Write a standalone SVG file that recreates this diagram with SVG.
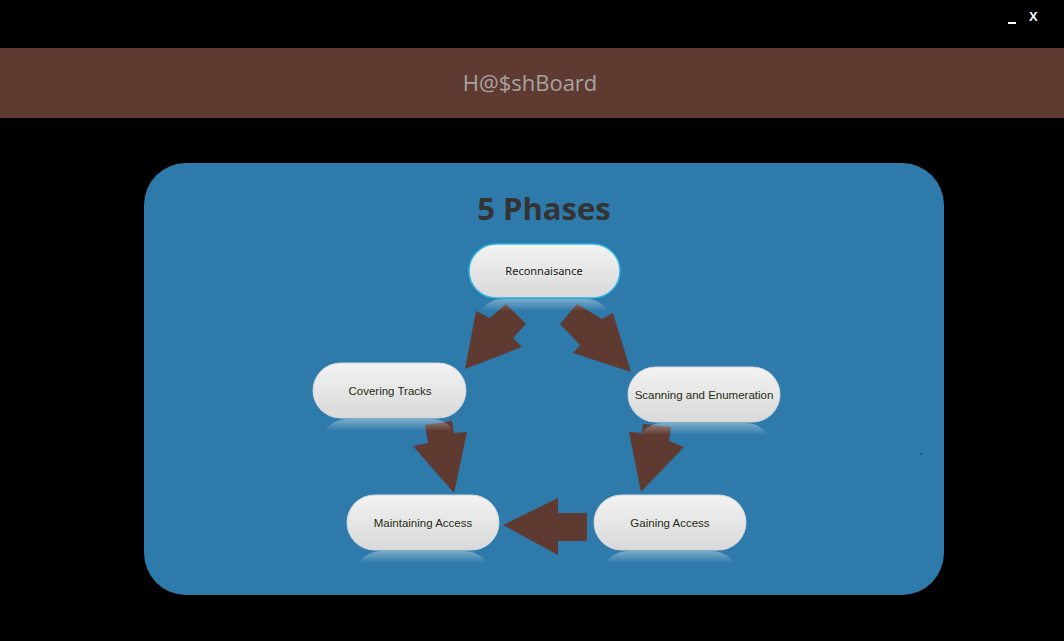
<svg xmlns="http://www.w3.org/2000/svg" width="1064" height="641" viewBox="0 0 1064 641">
<defs>
<linearGradient id="pillFill" x1="0" y1="0" x2="0" y2="1">
<stop offset="0" stop-color="#f3f3f3"/>
<stop offset="1" stop-color="#d9d9d9"/>
</linearGradient>
<linearGradient id="reflFill" x1="0" y1="0" x2="0" y2="1">
<stop offset="0" stop-color="#ffffff" stop-opacity="0.38"/>
<stop offset="0.22" stop-color="#ffffff" stop-opacity="0"/>
</linearGradient>
<style>
.pill{fill:url(#pillFill);stroke:#cfd6dc;stroke-width:1}
.pill.sel{stroke:#2ab6e4;stroke-width:1.5}
.refl{fill:url(#reflFill)}
.lbl{font-family:"Liberation Sans",Arial,sans-serif;font-size:11.5px;fill:#1f2d12;text-anchor:middle}
.arrow{fill:#5e3a31}
</style>
</defs>
<rect width="1064" height="641" fill="#000"/>
<g id="window-controls" fill="#fff" font-family="'Liberation Sans',Arial,sans-serif" font-weight="bold" font-size="13">
<rect x="1008" y="22" width="8" height="2"/>
<text x="1029" y="21">X</text>
</g>
<g id="header">
<rect x="0" y="48" width="1064" height="70" fill="#5e3a31"/>
<text x="530" y="91" font-family="'Open Sans','Noto Sans',sans-serif" font-size="22" fill="#a7a2a0" text-anchor="middle">H@$shBoard</text>
</g>
<g id="panel">
<rect x="144" y="163" width="800" height="432" rx="42" ry="42" fill="#2e7aab"/>
<text x="544" y="220" font-family="'Open Sans','DejaVu Sans',sans-serif" font-weight="bold" font-size="31" fill="#333333" text-anchor="middle">5 Phases</text>
<rect x="920.5" y="453.5" width="1.2" height="1.2" fill="#0a1a2a"/>
</g>
<g id="connectors">
<polygon class="arrow" points="465,369 476,311 490,318 506,304 526,324 513,338 522,347"/>
<polygon class="arrow" points="631,372 573,353 580,345 560,324 577,304 602,319 613,313"/>
<polygon class="arrow" points="454,493 413,446 428,443 425,425 452,421 454,433 467,432"/>
<polygon class="arrow" points="641,492 629,432 642,433 643,424 671,427 669,441 684,447"/>
<polygon class="arrow" points="503,525 558,498 558,513 587,513 587,541 558,541 558,555"/>
</g>
<g id="node-reconnaisance">
<rect class="refl" x="476" y="299" width="137" height="54" rx="27"/>
<rect class="pill sel" x="469" y="244" width="151" height="54" rx="27"/>
<text x="544" y="275" font-family="'Noto Sans','Liberation Sans',sans-serif" font-size="11" fill="#1a1a1a" text-anchor="middle">Reconnaisance</text>
</g>
<g id="node-covering-tracks">
<rect class="refl" x="320" y="419" width="139" height="55" rx="27.5"/>
<rect class="pill" x="313" y="363" width="153" height="55" rx="27.5"/>
<text class="lbl" x="390" y="395">Covering Tracks</text>
</g>
<g id="node-scanning">
<rect class="refl" x="635" y="423" width="138" height="55" rx="27.5"/>
<rect class="pill" x="628" y="367" width="152" height="55" rx="27.5"/>
<text class="lbl" x="704" y="399">Scanning and Enumeration</text>
</g>
<g id="node-maintaining">
<rect class="refl" x="354" y="551" width="138" height="55" rx="27.5"/>
<rect class="pill" x="347" y="495" width="152" height="55" rx="27.5"/>
<text class="lbl" x="423" y="527">Maintaining Access</text>
</g>
<g id="node-gaining">
<rect class="refl" x="601" y="551" width="138" height="55" rx="27.5"/>
<rect class="pill" x="594" y="495" width="152" height="55" rx="27.5"/>
<text class="lbl" x="670" y="527">Gaining Access</text>
</g>
</svg>
